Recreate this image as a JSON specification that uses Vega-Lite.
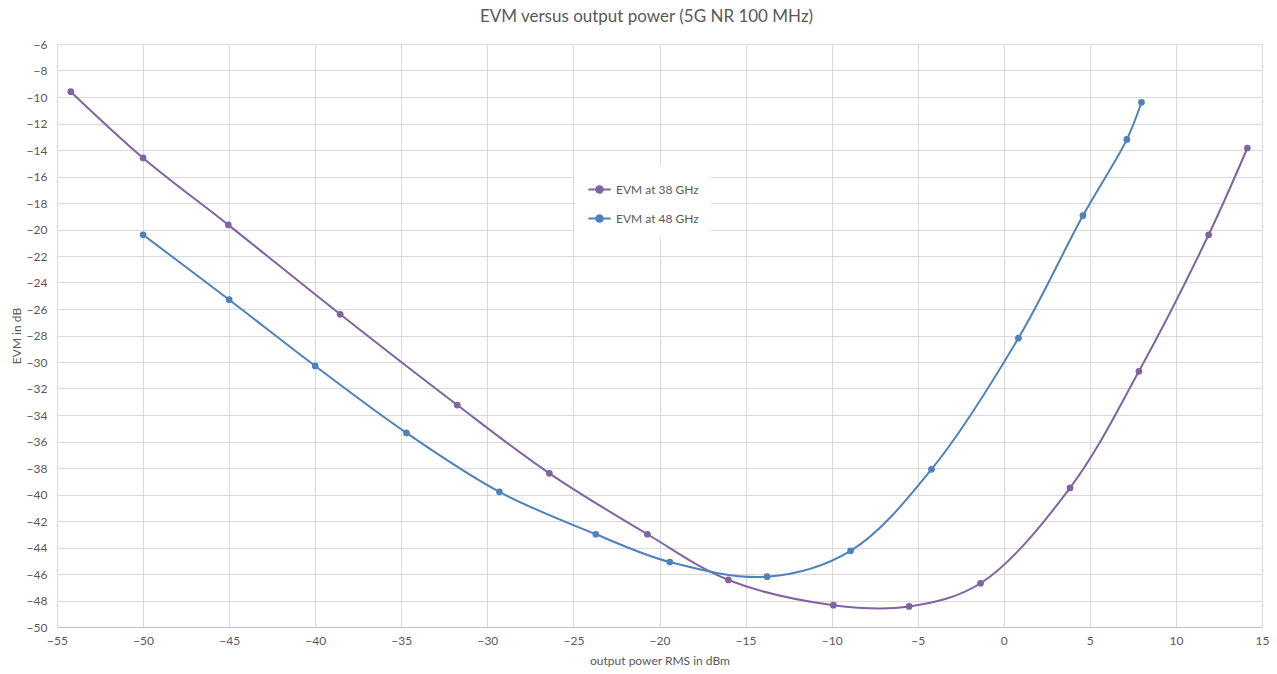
{
  "$schema": "https://vega.github.io/schema/vega-lite/v6.json",
  "width": 1205,
  "height": 583,
  "autosize": {"type": "none"},
  "padding": {"left": 57, "top": 44, "right": 15, "bottom": 47},
  "background": "white",
  "title": {
    "text": "EVM versus output power (5G NR 100 MHz)",
    "font": "Lato",
    "fontSize": 17,
    "fontWeight": "normal",
    "color": "#595959",
    "anchor": "middle",
    "dx": -13,
    "offset": 12
  },
  "config": {
    "view": {"stroke": null},
    "font": "Lato"
  },
  "data": {
    "values": [
      {"series": "EVM at 38 GHz", "p": -54.2, "evm": -9.6},
      {"series": "EVM at 38 GHz", "p": -50.0, "evm": -14.6},
      {"series": "EVM at 38 GHz", "p": -45.05, "evm": -19.65},
      {"series": "EVM at 38 GHz", "p": -38.55, "evm": -26.4},
      {"series": "EVM at 38 GHz", "p": -31.75, "evm": -33.25},
      {"series": "EVM at 38 GHz", "p": -26.4, "evm": -38.4},
      {"series": "EVM at 38 GHz", "p": -20.7, "evm": -43.0},
      {"series": "EVM at 38 GHz", "p": -16.0, "evm": -46.45},
      {"series": "EVM at 38 GHz", "p": -9.9, "evm": -48.35},
      {"series": "EVM at 38 GHz", "p": -5.5, "evm": -48.45},
      {"series": "EVM at 38 GHz", "p": -1.35, "evm": -46.7},
      {"series": "EVM at 38 GHz", "p": 3.85, "evm": -39.5},
      {"series": "EVM at 38 GHz", "p": 7.85, "evm": -30.7},
      {"series": "EVM at 38 GHz", "p": 11.9, "evm": -20.4},
      {"series": "EVM at 38 GHz", "p": 14.15, "evm": -13.85},
      {"series": "EVM at 48 GHz", "p": -50.0, "evm": -20.4},
      {"series": "EVM at 48 GHz", "p": -45.0, "evm": -25.3},
      {"series": "EVM at 48 GHz", "p": -40.0, "evm": -30.3},
      {"series": "EVM at 48 GHz", "p": -34.7, "evm": -35.35},
      {"series": "EVM at 48 GHz", "p": -29.3, "evm": -39.8},
      {"series": "EVM at 48 GHz", "p": -23.7, "evm": -43.0},
      {"series": "EVM at 48 GHz", "p": -19.4, "evm": -45.1},
      {"series": "EVM at 48 GHz", "p": -13.75, "evm": -46.2},
      {"series": "EVM at 48 GHz", "p": -8.9, "evm": -44.25},
      {"series": "EVM at 48 GHz", "p": -4.2, "evm": -38.1},
      {"series": "EVM at 48 GHz", "p": 0.85, "evm": -28.2},
      {"series": "EVM at 48 GHz", "p": 4.6, "evm": -18.95},
      {"series": "EVM at 48 GHz", "p": 7.15, "evm": -13.2},
      {"series": "EVM at 48 GHz", "p": 8.0, "evm": -10.4}
    ]
  },
  "encoding": {
    "x": {
      "field": "p",
      "type": "quantitative",
      "scale": {"domain": [-55, 15], "nice": false, "zero": false},
      "axis": {
        "title": "output power RMS in dBm",
        "values": [-55, -50, -45, -40, -35, -30, -25, -20, -15, -10, -5, 0, 5, 10, 15],
        "grid": true,
        "gridColor": "#D9D9D9",
        "domainColor": "#BFBFBF",
        "ticks": false,
        "labelColor": "#595959",
        "labelFontSize": 12,
        "labelPadding": 8,
        "labelFlush": false,
        "titleColor": "#595959",
        "titleFontSize": 12,
        "titleFontWeight": "normal",
        "titlePadding": 9,
        "titleFont": "Lato",
        "labelFont": "Lato"
      }
    },
    "y": {
      "field": "evm",
      "type": "quantitative",
      "scale": {"domain": [-50, -6], "nice": false, "zero": false},
      "axis": {
        "title": "EVM in dB",
        "values": [-50, -48, -46, -44, -42, -40, -38, -36, -34, -32, -30, -28, -26, -24, -22, -20, -18, -16, -14, -12, -10, -8, -6],
        "grid": true,
        "gridColor": "#D9D9D9",
        "domain": false,
        "ticks": false,
        "labelColor": "#595959",
        "labelFontSize": 12,
        "labelPadding": 10,
        "labelFlush": false,
        "titleColor": "#595959",
        "titleFontSize": 12,
        "titleFontWeight": "normal",
        "titlePadding": 3,
        "titleFont": "Lato",
        "labelFont": "Lato"
      }
    },
    "color": {
      "field": "series",
      "type": "nominal",
      "scale": {"domain": ["EVM at 38 GHz", "EVM at 48 GHz"], "range": ["#8064A2", "#4F81BD"]},
      "legend": {
        "title": null,
        "orient": "none",
        "legendX": 518,
        "legendY": 121,
        "fillColor": "white",
        "padding": 12,
        "rowPadding": 9,
        "labelFontSize": 12,
        "labelColor": "#595959",
        "labelFont": "Lato",
        "symbolType": "M-1,0H1M-0.3,0a0.3,0.3 0 1,0 0.6,0a0.3,0.3 0 1,0 -0.6,0",
        "symbolSize": 500,
        "symbolStrokeWidth": 2,
        "symbolOpacity": 1
      }
    }
  },
  "layer": [
    {
      "mark": {"type": "line", "interpolate": "catmull-rom", "strokeWidth": 2}
    },
    {
      "mark": {"type": "circle", "size": 45, "opacity": 1}
    }
  ]
}
